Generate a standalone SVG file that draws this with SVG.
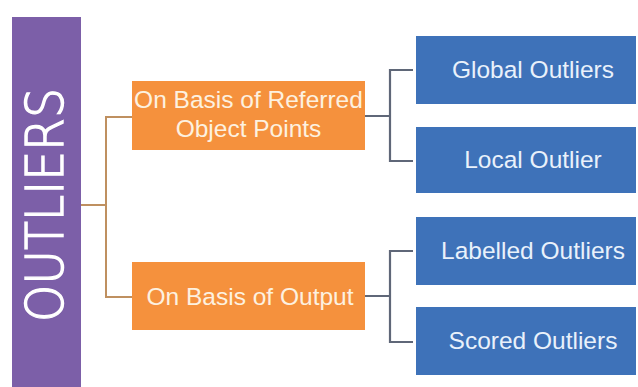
<svg xmlns="http://www.w3.org/2000/svg" width="638" height="387" viewBox="0 0 638 387">
  <style>
    .lbl { font-family: "Liberation Sans", Arial, sans-serif; font-size: 24.5px; text-anchor: middle; }
    .title { font-family: "DejaVu Sans", "Liberation Sans", sans-serif; font-weight: 200; font-size: 52px; text-anchor: middle; fill: #ffffff; stroke: #ffffff; stroke-width: 1.4; }
    .cat { fill: #f5913d; }
    .cat-t { fill: #fdf1e0; }
    .leaf { fill: #3e72b9; }
    .leaf-t { fill: #e9f1fb; }
    .wire-a { fill: none; stroke: #bf9060; stroke-width: 2; }
    .wire-b { fill: none; stroke: #5f6778; stroke-width: 2.2; }
  </style>
  <rect width="638" height="387" fill="#ffffff"/>

  <!-- root -->
  <g id="root">
    <rect x="12" y="17" width="69" height="375" fill="#7c5fa8"/>
    <text class="title" transform="translate(63 205) rotate(-90)" x="0" y="0" textLength="234" lengthAdjust="spacingAndGlyphs">OUTLIERS</text>
  </g>

  <!-- connectors -->
  <g id="connectors">
    <path class="wire-a" d="M81 205 H106 M132 117 H106 V297 H132"/>
    <path class="wire-b" d="M365 116 H390 M413 70 H390 V161 H413"/>
    <path class="wire-b" d="M365 296 H390 M413 251 H390 V342 H413"/>
  </g>

  <!-- second level -->
  <g id="by-reference">
    <rect class="cat" x="132" y="81" width="233" height="69"/>
    <text class="lbl cat-t" x="248.5" y="108">On Basis of Referred</text>
    <text class="lbl cat-t" x="248.5" y="137">Object Points</text>
  </g>
  <g id="by-output">
    <rect class="cat" x="132" y="262" width="233" height="68"/>
    <text class="lbl cat-t" x="250" y="305">On Basis of Output</text>
  </g>

  <!-- leaves -->
  <g id="global">
    <rect class="leaf" x="416" y="36" width="220" height="68"/>
    <text class="lbl leaf-t" x="533" y="78">Global Outliers</text>
  </g>
  <g id="local">
    <rect class="leaf" x="416" y="127" width="220" height="66"/>
    <text class="lbl leaf-t" x="533" y="168">Local Outlier</text>
  </g>
  <g id="labelled">
    <rect class="leaf" x="416" y="217" width="220" height="68"/>
    <text class="lbl leaf-t" x="533" y="259">Labelled Outliers</text>
  </g>
  <g id="scored">
    <rect class="leaf" x="416" y="307" width="220" height="68"/>
    <text class="lbl leaf-t" x="533" y="349">Scored Outliers</text>
  </g>
</svg>
